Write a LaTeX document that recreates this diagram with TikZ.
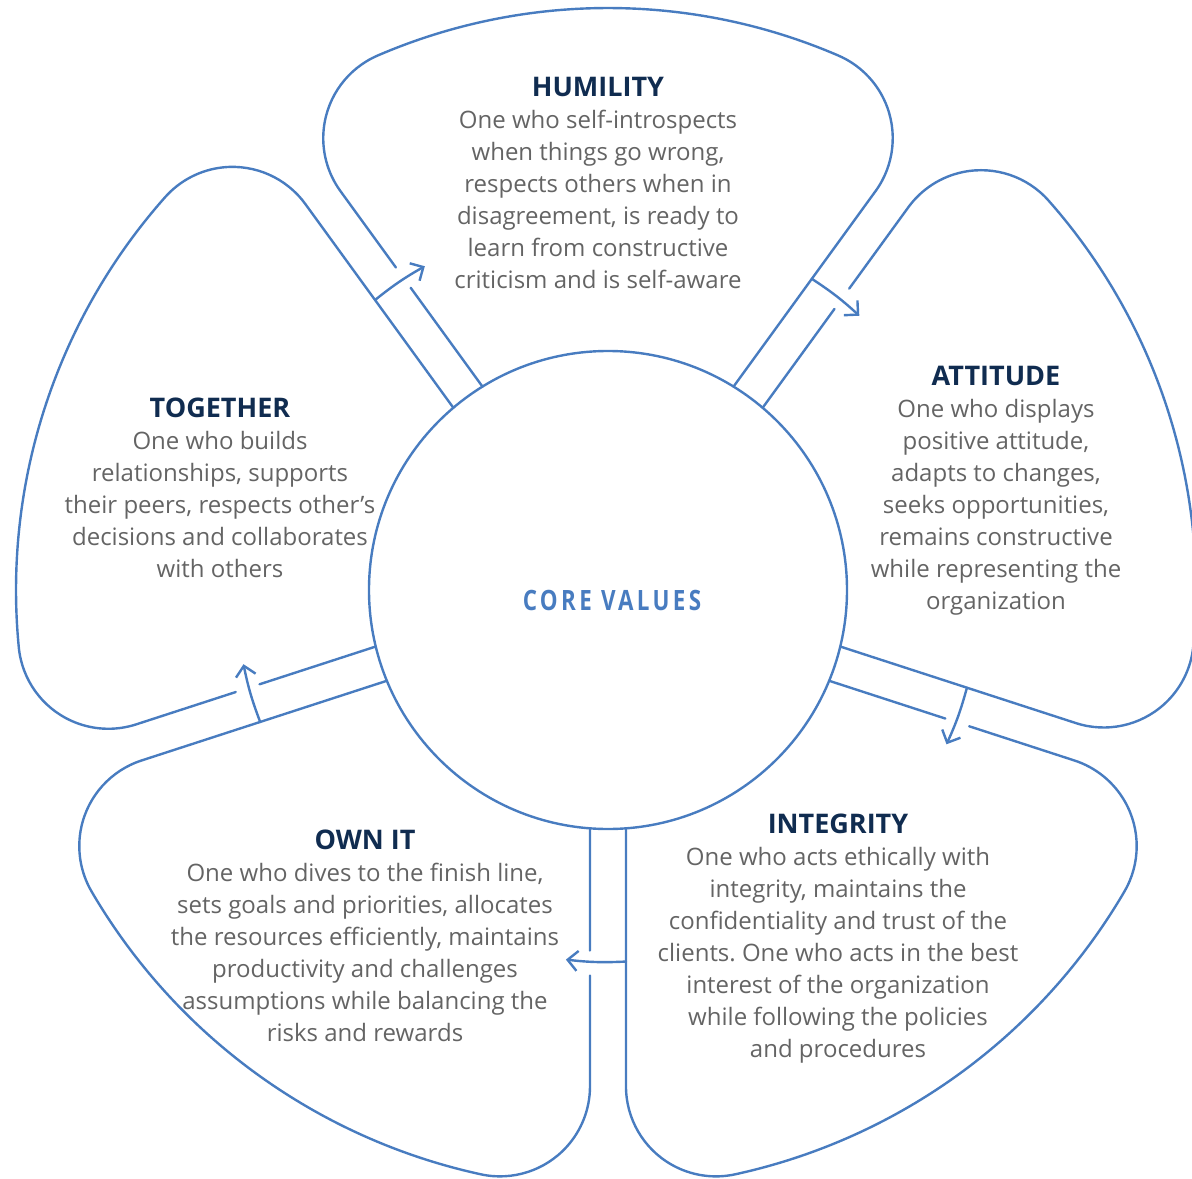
\documentclass[tikz,border=0pt]{standalone}
\usepackage{fontspec}
\setmainfont{Open Sans}
\newfontfamily\corefont{Open Sans}[FakeStretch=0.8,LetterSpace=12]
\usetikzlibrary{arrows.meta}
\definecolor{petalblue}{RGB}{72,124,192}
\definecolor{titlenavy}{RGB}{16,44,80}
\definecolor{bodygray}{RGB}{100,100,100}
\newcommand\valuehead[1]{{\fontsize{13.5}{16}\selectfont\bfseries\color{titlenavy}#1}}
\frenchspacing

\begin{document}
\begin{tikzpicture}[x=0.5pt,y=0.5pt,
    petal/.style={draw=petalblue,line width=1.2pt,line cap=round},
    flow/.style={petal,-{Straight Barb[length=5pt,width=10pt]}},
    hub/.style={circle,draw=petalblue,line width=1.2pt,minimum size=239pt,inner sep=0pt},
    blurb/.style={align=center,anchor=base,text=bodygray,inner sep=0pt,font=\fontsize{12}{16}\selectfont},
    hubtext/.style={text=petalblue,font=\corefont\bfseries\fontsize{14}{16}\selectfont}]
    \useasboundingbox (-608,-588) rectangle (584,590);

    \foreach \ang/\R/\i in {90/582/1,18/588/2,-54/598/3,-126/598/4,162/592/5}{
        \pgfmathsetmacro\tc{100*sqrt(((\R-90)/100)^2-1.1664)}
        \pgfmathsetmacro\bt{36-atan(108/\tc)}
        \pgfmathsetmacro\tw{36-atan(18/\tc)}
        \pgfmathsetmacro\rw{100*sqrt((\tc/100)^2+0.0324)}
        \begin{scope}[rotate=\ang]
            \draw[petal] (-31.68:239) -- (-\tw:\rw)
                arc[start angle=-126,end angle=-\bt,radius=90]
                arc[start angle=-\bt,end angle=\bt,radius=\R]
                arc[start angle=\bt,end angle=126,radius=90] -- (33.33:386);
            \draw[petal] (33.14:361) -- (31.68:239);
            \coordinate (from\i) at (38.77:372);
            \coordinate (to\i) at (29.5:372);
            \draw[flow] (from\i) to[bend left=4.6] (to\i);
        \end{scope}
    }

    \node[hub] (core) at (0,0) {};
    \node[hubtext] (coretext) at (4,-10) {CORE VALUES};

    \node[blurb] (humility) at (-10,301) {\valuehead{HUMILITY}\\One who self-introspects\\when things go wrong,\\respects others when in\\disagreement, is ready to\\learn from constructive\\criticism and is self-aware};
    \node[blurb] (attitude) at (388,-19) {\valuehead{ATTITUDE}\\One who displays\\positive attitude,\\adapts to changes,\\seeks opportunities,\\remains constructive\\while representing the\\organization};
    \node[blurb] (integrity) at (230,-467) {\valuehead{INTEGRITY}\\One who acts ethically with\\integrity, maintains the\\confidentiality and trust of the\\clients. One who acts in the best\\interest of the organization\\while following the policies\\and procedures};
    \node[blurb] (ownit) at (-243,-451) {\valuehead{OWN IT}\\One who dives to the finish line,\\sets goals and priorities, allocates\\the resources efficiently, maintains\\productivity and challenges\\assumptions while balancing the\\risks and rewards};
    \node[blurb] (together) at (-388,13) {\valuehead{TOGETHER}\\One who builds\\relationships, supports\\their peers, respects other’s\\decisions and collaborates\\with others};
\end{tikzpicture}
\end{document}
